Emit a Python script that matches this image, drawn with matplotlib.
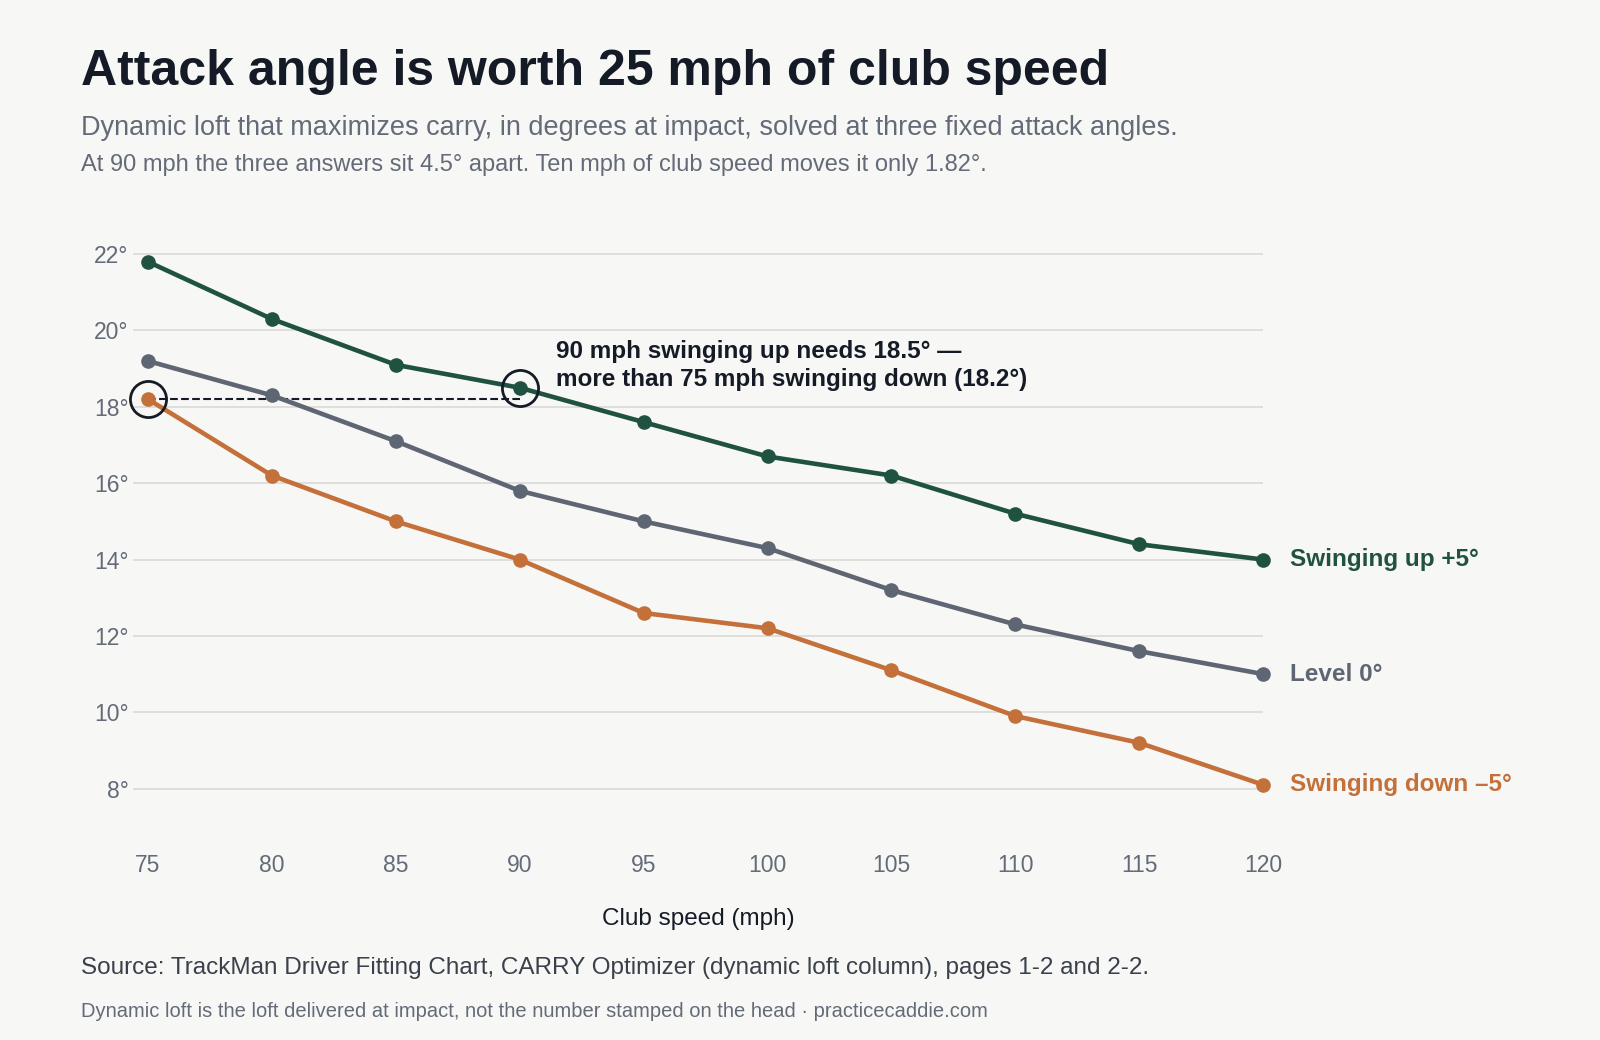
import matplotlib
matplotlib.use("Agg")
import matplotlib.pyplot as plt

plt.rcParams["font.family"] = ["Liberation Sans", "DejaVu Sans"]

speeds = [75, 80, 85, 90, 95, 100, 105, 110, 115, 120]
swing_up = [21.8, 20.3, 19.1, 18.5, 17.6, 16.7, 16.2, 15.2, 14.4, 14.0]
level = [19.2, 18.3, 17.1, 15.8, 15.0, 14.3, 13.2, 12.3, 11.6, 11.0]
swing_down = [18.2, 16.2, 15.0, 14.0, 12.6, 12.2, 11.1, 9.9, 9.2, 8.1]
yticks = [8, 10, 12, 14, 16, 18, 20, 22]

BG = "#f7f7f5"
GREEN = "#1f5240"
GRAY = "#5f6673"
ORANGE = "#c4703a"
INK = "#151b26"
MUTED = "#646b78"

fig = plt.figure(figsize=(16, 10.4), dpi=100, facecolor=BG)
ax = fig.add_axes([0.0829, 0.216, 0.7066, 0.547], facecolor=BG)

series = [(swing_up, GREEN, "Swinging up +5°"),
          (level, GRAY, "Level 0°"),
          (swing_down, ORANGE, "Swinging down \u20135°")]
for vals, col, name in series:
    ax.plot(speeds, vals, color=col, lw=3.3, marker="o", ms=9.5, zorder=3, clip_on=False)
    ax.annotate(name, (speeds[-1], vals[-1]), xytext=(19, 0), textcoords="offset points",
                va="center", ha="left", fontsize=17.5, fontweight="bold", color=col,
                annotation_clip=False)

# highlight: 90 mph up vs 75 mph down
ax.plot([speeds[0], speeds[3]], [swing_down[0], swing_down[0]], ls="--", color=INK, lw=1.5, zorder=2)
for x, y in [(speeds[0], swing_down[0]), (speeds[3], swing_up[3])]:
    ax.plot(x, y, marker="o", ms=26, mfc="none", mec=INK, mew=2, zorder=4, clip_on=False)
ax.annotate(f"90 mph swinging up needs {swing_up[3]}° \u2014\nmore than 75 mph swinging down ({swing_down[0]}°)",
            (speeds[3], swing_up[3]), xytext=(26, -2.5), textcoords="offset points",
            fontsize=17.5, fontweight="bold", color=INK, va="bottom", ha="left", linespacing=1.3)

ax.set_xlim(74.38, 120)
ax.set_ylim(7.3, 22.2)
ax.set_xticks(speeds)
ax.set_yticks(yticks)
ax.set_yticklabels([f"{v}°" for v in yticks])
ax.grid(axis="y", color="#d9d9d6", lw=1.2)
ax.set_axisbelow(True)
for s in ax.spines.values():
    s.set_visible(False)
ax.tick_params(length=0, labelsize=16.5, labelcolor=MUTED)
ax.tick_params(axis="x", pad=28)
ax.tick_params(axis="y", pad=3)
ax.set_xlabel("Club speed (mph)", fontsize=17.5, color=INK, labelpad=22)

fig.text(0.0504, 0.931, "Attack angle is worth 25 mph of club speed", fontsize=36,
         fontweight="bold", color=INK, va="center")
fig.text(0.0504, 0.877, "Dynamic loft that maximizes carry, in degrees at impact, solved at three fixed attack angles.",
         fontsize=19.5, color=MUTED, va="center")
fig.text(0.0504, 0.841, "At 90 mph the three answers sit 4.5° apart. Ten mph of club speed moves it only 1.82°.",
         fontsize=17, color=MUTED, va="center")
fig.text(0.0504, 0.069, "Source: TrackMan Driver Fitting Chart, CARRY Optimizer (dynamic loft column), pages 1-2 and 2-2.",
         fontsize=17.5, color="#3a404c", va="center")
fig.text(0.0504, 0.027, "Dynamic loft is the loft delivered at impact, not the number stamped on the head \u00b7 practicecaddie.com",
         fontsize=14.5, color=MUTED, va="center")

fig.savefig("out.png", dpi=100, facecolor=BG)
